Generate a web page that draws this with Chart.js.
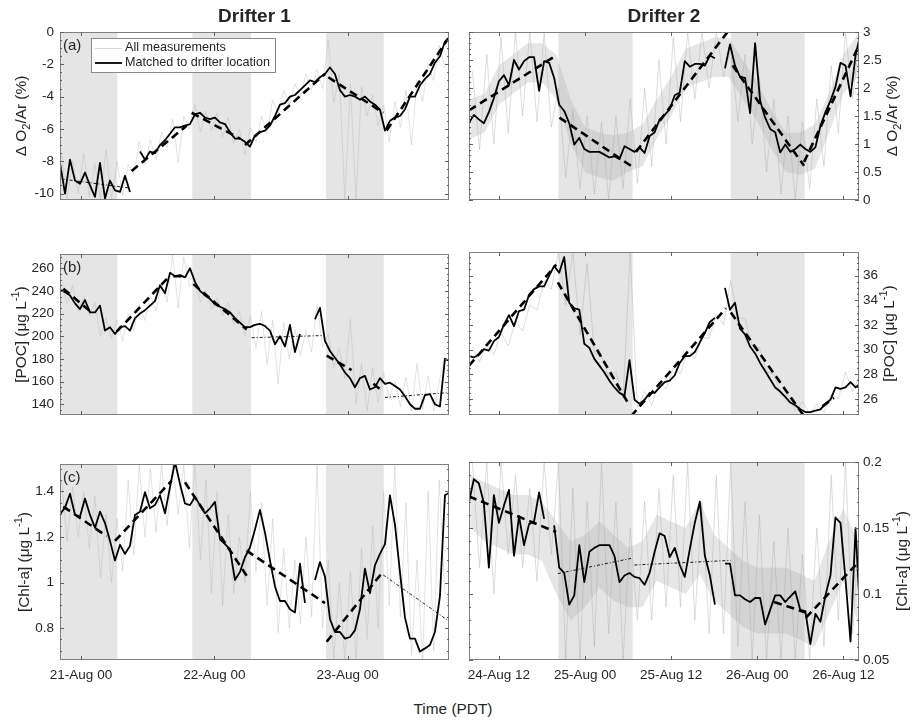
<!DOCTYPE html>
<html>
<head>
<meta charset="utf-8">
<script src="https://cdn.jsdelivr.net/npm/chart.js@4.4.0/dist/chart.umd.min.js"></script>
<style>
  body { margin: 0; background: #fff; }
  #wrap { position: relative; width: 916px; height: 720px; overflow: hidden; }
  canvas { position: absolute; }
  #xlab { position: absolute; left: 0; width: 906px; top: 700px; text-align: center;
          font: 15.4px "Liberation Sans", Arial, sans-serif; color: #262626; }
</style>
</head>
<body>
<div id="wrap">
  <canvas id="a1" width="458" height="240" style="left:0;top:0"></canvas>
  <canvas id="a2" width="458" height="240" style="left:458px;top:0"></canvas>
  <canvas id="b1" width="458" height="210" style="left:0;top:240px"></canvas>
  <canvas id="b2" width="458" height="210" style="left:458px;top:240px"></canvas>
  <canvas id="c1" width="458" height="240" style="left:0;top:450px"></canvas>
  <canvas id="c2" width="458" height="240" style="left:458px;top:450px"></canvas>
  <div id="xlab">Time (PDT)</div>
</div>
<script>
// time is in hours: drifter 1 from 21-Aug 00:00, drifter 2 from 24-Aug 12:00
const xTicks1 = [0, 24, 48];
const xLabels1 = ['21-Aug 00', '22-Aug 00', '23-Aug 00'];
const xTicks2 = [0, 12, 24, 36, 48];
const xLabels2 = ['24-Aug 12', '25-Aug 00', '25-Aug 12', '26-Aug 00', '26-Aug 12'];
const nights1 = [[-10, 6.53], [20.04, 30.6], [44.1, 54.5]];
const nights2 = [[8.29, 18.63], [32.3, 42.6]];

// matched-to-drifter series (regular sampling, null = no data)
const black1Start = -3.78, black1Step = 0.9;
const black2Start = -4.2, black2Step = 0.7;
const blackA1 = [-8.1, -10.0, -7.9, -9.2, -9.4, -8.7, -9.5, -10.2, -8.1, -10.3, -9.2, -9.8, -9.9, -8.9, -9.9, null,
  -7.4, -7.9, -7.4, -7.5, -7.0, -6.7, -6.3, -5.9, -5.9, -5.8, -5.7, -5.1, -5.0, -5.3, -5.4, -5.3, -5.6, -5.7, -6.2,
  -6.6, -6.6, -6.8, -7.1, -6.4, -6.2, -6.1, -5.8, -5.2, -4.5, -4.4, -4.0, -3.9, -3.6, -3.3, -3.0, -3.1, -2.8, -2.6,
  -2.2, -2.6, -3.6, -4.0, -3.9, -4.0, -4.2, -4.0, -4.3, -4.5, -4.8, -6.1, -5.5, -5.3, -5.2, -4.8, -4.0, -4.0, -3.3,
  -2.9, -2.6, -1.9, -1.5, -0.6, -0.3];
const blackB1 = [241, 239, 236, 229, 224, 232, 221, 221, 227, 205, 208, 202, 208, 209, 205, 216, 220, 223, 227, 231,
  245, 238, 256, 253, 254, 252, 260, 248, 240, 236, 233, 228, 226, 224, 221, 216, 212, 208, 208, 210, 211, 209, 205,
  193, 200, 191, 210, 186, 202, null, null, 215, 225, 196, 187, 181, 175, 168, 163, 155, 163, 165, 153, 155, 163, 158,
  159, 156, 153, 147, 140, 136, 136, 148, 149, 140, 138, 180, 178];
const blackC1 = [1.30, 1.329, 1.39, 1.297, 1.29, 1.369, 1.297, 1.24, 1.311, 1.261, 1.183, 1.097, 1.166, 1.126, 1.161,
  1.297, 1.311, 1.397, 1.326, 1.34, 1.383, 1.304, 1.419, 1.53, 1.433, 1.347, 1.34, 1.376, 1.34, 1.304, 1.326, 1.354,
  1.19, 1.169, 1.147, 1.011, 1.047, 1.111, 1.154, 1.233, 1.319, 1.219, 1.097, 0.983, 0.919, 0.919, 0.883, 0.869, 1.083,
  0.911, null, 1.011, 1.09, 1.026, 0.84, 0.783, 0.783, 0.754, 0.761, 0.79, 0.883, 1.061, 0.954, 1.076, 1.126, 1.169,
  1.383, 1.254, 1.047, 0.847, 0.754, 0.754, 0.697, 0.711, 0.726, 0.783, 0.94, 1.383, 1.397];
const blackA2 = [1.37, 1.52, 1.44, 1.37, 1.57, 1.82, 2.12, 2.23, 2.05, 2.5, 2.33, 2.48, 2.55, 2.55, 1.95, 2.48, 2.45,
  2.18, 1.70, 1.59, 1.37, 0.99, 1.11, 0.91, 0.86, 0.86, 0.86, 0.81, 0.76, 0.78, 0.73, 0.96, 0.91, 0.86, 0.94, 0.84,
  1.14, 1.21, 1.44, 1.52, 1.62, 1.87, 1.92, 2.48, 2.38, 2.43, 2.43, 2.40, 2.58, 2.53, null, 2.35, 2.78, 2.40, 2.2,
  2.18, 1.55, 2.8, 1.77, 1.47, 1.27, 1.21, 0.85, 0.99, 0.86, 0.91, 0.99, 0.91, 0.86, 0.94, 1.32, 1.57, 1.77, 2.02,
  2.45, 2.40, 1.85, 2.58, 2.98];
const blackB2 = [29.47, 29.36, 29.58, 30.03, 29.92, 30.69, 31.02, 32.02, 32.79, 31.9, 33.12, 33.23, 34.45, 34.9, 35.12,
  35.12, 36.0, 36.77, 36.22, 37.5, 33.79, 33.35, 33.23, 30.47, 30.14, 29.25, 28.7, 28.15, 27.48, 26.93, 26.49, 26.27,
  29.14, 25.93, 25.6, 25.93, 26.49, 26.49, 26.93, 27.37, 27.48, 27.92, 28.92, 29.47, 29.47, 29.8, 30.58, 31.35, 32.24,
  32.57, null, 35.0, 33.23, 33.79, 31.69, 31.24, 30.25, 29.69, 28.92, 28.26, 27.59, 26.93, 26.6, 26.16, 25.71, 25.49,
  25.16, 24.94, 24.94, 25.05, 25.16, 25.6, 25.93, 26.93, 26.82, 26.93, 27.37, 26.93, 27.26];
const blackC2 = [0.169, 0.187, 0.184, 0.169, 0.12, 0.175, 0.154, 0.167, 0.179, 0.129, 0.159, 0.137, 0.153, 0.155,
  0.177, 0.157, null, 0.152, 0.12, 0.116, 0.092, 0.099, 0.137, 0.109, 0.132, 0.135, 0.137, 0.137, 0.137, 0.129, 0.109,
  0.114, 0.116, 0.113, 0.112, 0.107, 0.116, 0.132, 0.146, 0.144, 0.128, 0.135, 0.122, 0.113, 0.134, 0.154, 0.17,
  0.129, 0.114, 0.092, null, 0.123, 0.123, 0.099, 0.099, 0.096, 0.094, 0.097, 0.097, 0.077, 0.088, 0.099, 0.099,
  0.094, 0.098, 0.102, 0.088, 0.087, 0.062, 0.085, 0.079, 0.099, 0.114, 0.158, 0.154, 0.111, 0.064, 0.15, 0.077];

// all measurements (hourly highs/lows)
const gray1Start = -3.5, gray2Start = -3.7, grayStep = 1;
const grayA1 = [-7.6, -10.3, -8.0, -10.0, -7.5, -10.2, -8.2, -10.4, -7.3, -10.3, -8.0, -10.1, -8.2, -8.8, -6.8, -8.2,
  -6.7, -7.9, -6.2, -7.2, -5.4, -8.1, -5.2, -6.0, -4.5, -6.2, -4.9, -6.1, -5.0, -6.5, -5.3, -6.9, -6.0, -7.6, -5.9,
  -6.8, -5.2, -6.3, -4.2, -5.0, -3.6, -4.5, -3.2, -4.0, -2.6, -3.6, -2.3, -3.5, -0.5, -4.4, -2.6, -10.4, -3.2, -10.4,
  -3.4, -5.2, -3.9, -5.8, -4.5, -6.8, -4.3, -5.9, -3.6, -7.0, -3.0, -4.3, -2.0, -3.0, -0.8, -2.2];
const grayB1 = [248, 228, 245, 222, 236, 218, 230, 200, 216, 198, 214, 196, 220, 205, 228, 214, 236, 222, 246, 230,
  272, 225, 270, 244, 250, 230, 240, 224, 234, 218, 230, 210, 222, 200, 218, 190, 222, 175, 214, 158, 212, 180, 206,
  183, 205, 186, 228, 190, 202, 172, 190, 162, 215, 140, 176, 134, 172, 142, 168, 145, 160, 138, 164, 134, 176, 136,
  165, 134, 160, 183];
const grayC1 = [1.45, 1.18, 1.42, 1.20, 1.40, 1.15, 1.38, 1.02, 1.30, 1.00, 1.28, 1.05, 1.45, 1.12, 1.52, 1.20, 1.50,
  1.22, 1.52, 1.25, 1.52, 1.30, 1.52, 1.15, 1.52, 1.10, 1.45, 0.95, 1.40, 0.90, 1.30, 0.95, 1.20, 1.00, 1.40, 1.05,
  1.35, 0.90, 1.28, 0.78, 1.15, 0.80, 1.10, 0.82, 1.20, 0.85, 1.52, 0.80, 1.10, 0.66, 1.00, 0.66, 1.05, 0.66, 1.15,
  0.75, 1.25, 0.80, 1.40, 0.90, 1.52, 0.85, 1.35, 0.68, 1.10, 0.66, 1.40, 0.70, 1.45, 0.95];
const grayA2 = [2.3, 0.9, 2.6, 1.0, 2.9, 1.2, 3.0, 1.5, 3.0, 1.4, 3.0, 1.3, 2.0, 0.4, 1.6, 0.2, 1.5, 0.1, 1.4, 0.0,
  1.5, 0.2, 1.8, 0.3, 2.0, 0.6, 2.5, 1.0, 2.9, 1.4, 3.0, 1.8, 3.0, 2.0, 3.0, 2.2, 2.7, 1.4, 2.6, 1.0, 2.2, 0.5, 1.8,
  0.1, 1.5, 0.0, 1.4, 0.2, 1.8, 0.6, 2.4, 1.2, 3.0, 1.8, 3.0];
const grayB2 = [30.2, 29.0, 30.5, 29.6, 31.4, 30.3, 32.3, 31.5, 33.6, 33.2, 35.6, 34.9, 37.9, 33.6, 37.9, 31.2, 37.0,
  29.7, 29.5, 27.8, 28.2, 26.0, 37.9, 25.3, 26.6, 25.5, 27.4, 26.8, 28.5, 28.0, 30.0, 29.3, 31.0, 30.9, 32.9, 32.0,
  35.6, 32.6, 32.5, 30.3, 30.2, 28.2, 28.0, 26.3, 26.3, 25.0, 25.8, 24.8, 25.6, 24.9, 26.4, 26.0, 28.2, 26.6, 28.0];
const grayC2 = [0.2, 0.12, 0.2, 0.10, 0.2, 0.13, 0.19, 0.12, 0.18, 0.11, 0.2, 0.13, 0.2, 0.05, 0.18, 0.05, 0.17, 0.06,
  0.2, 0.07, 0.17, 0.05, 0.15, 0.08, 0.17, 0.08, 0.18, 0.09, 0.19, 0.09, 0.2, 0.08, 0.17, 0.07, 0.19, 0.07, 0.2, 0.06,
  0.17, 0.05, 0.16, 0.05, 0.14, 0.05, 0.15, 0.05, 0.13, 0.05, 0.15, 0.06, 0.19, 0.08, 0.2, 0.07, 0.16];

// dense core of the measurements, drifter 2 (every 2 h from -4 h)
const coreStart = -4, coreStep = 2;
const coreHiA2 = [1.8, 1.9, 2.4, 2.6, 2.8, 2.8, 2.6, 1.8, 1.3, 1.2, 1.15, 1.2, 1.35, 1.8, 2.2, 2.7, 2.8, 2.9, 2.9,
  2.5, 2.1, 1.6, 1.2, 1.2, 1.35, 1.9, 2.6, 2.95];
const coreLoA2 = [1.1, 1.2, 1.7, 1.9, 2.1, 2.1, 1.8, 1.0, 0.5, 0.4, 0.35, 0.5, 0.6, 1.1, 1.5, 2.0, 2.1, 2.2, 2.2,
  1.8, 1.4, 0.9, 0.5, 0.45, 0.55, 1.2, 1.9, 2.2];
const coreHiC2 = [0.19, 0.185, 0.18, 0.175, 0.175, 0.17, 0.155, 0.14, 0.145, 0.155, 0.145, 0.135, 0.14, 0.16, 0.155,
  0.15, 0.17, 0.145, 0.135, 0.125, 0.12, 0.12, 0.12, 0.115, 0.11, 0.14, 0.165, 0.14];
const coreLoC2 = [0.15, 0.14, 0.135, 0.13, 0.13, 0.125, 0.1, 0.08, 0.09, 0.105, 0.095, 0.09, 0.09, 0.11, 0.105, 0.1,
  0.115, 0.095, 0.085, 0.075, 0.07, 0.07, 0.07, 0.065, 0.06, 0.085, 0.11, 0.08];

// linear fits: [t0, v0, t1, v1]
const fitA1 = [[9.12, -8.6, 19.02, -5.8], [19.92, -5.0, 28.62, -6.6], [29.52, -7.0, 43.92, -2.6],
  [44.52, -2.8, 54.42, -5.0], [55.02, -6.1, 66.12, -0.4]];
const thinA1 = [[-3.48, -9.1, 8.52, -9.65]];
const fitB1 = [[-3.18, 242, 1.92, 221], [6.42, 204, 15.72, 252], [16.62, 253, 19.02, 253], [20.22, 246, 29.82, 206],
  [44.22, 183, 48.72, 170], [52.62, 158, 54.42, 151]];
const thinB1 = [[30.72, 198.7, 43.32, 200.6], [54.72, 146, 66.3, 150.3]];
const fitC1 = [[-3.18, 1.333, 4.62, 1.204], [6.12, 1.183, 16.32, 1.447], [18.72, 1.44, 30.12, 1.019],
  [29.82, 1.14, 43.92, 0.91], [44.22, 0.74, 54.12, 1.04]];
const thinC1 = [[54.42, 1.033, 66.12, 0.833]];
const fitA2 = [[-4.17, 1.60, 7.98, 2.58], [8.44, 1.47, 18.41, 0.61], [19.11, 0.86, 31.86, 3.0],
  [32.56, 2.40, 42.53, 0.61], [42.53, 0.68, 49.95, 2.7]];
const thinA2 = [];
const fitB2 = [[-4.17, 28.7, 7.98, 36.88], [8.21, 35.45, 17.95, 25.71], [18.41, 24.6, 31.63, 33.35],
  [32.32, 33.0, 42.53, 24.6], [45.08, 25.4, 46.70, 26.1]];
const thinB2 = [];
const fitC2 = [[-4.17, 0.174, 7.98, 0.147], [38.35, 0.094, 42.76, 0.086], [42.76, 0.082, 49.72, 0.122]];
const thinC2 = [[8.21, 0.1155, 18.41, 0.127], [18.88, 0.122, 32.32, 0.1255]];

const yTicksA1 = [-10, -8, -6, -4, -2, 0];
const yTicksB1 = [140, 160, 180, 200, 220, 240, 260];
const yTicksC1 = [0.8, 1, 1.2, 1.4];
const yTicksA2 = [0, 0.5, 1, 1.5, 2, 2.5, 3];
const yTicksB2 = [26, 28, 30, 32, 34, 36];
const yTicksC2 = [0.05, 0.1, 0.15, 0.2];

const FONT = '"Liberation Sans", Arial, sans-serif';
const TXT = '#262626';
Chart.defaults.font.family = FONT;

function series(start, step, values) {
  return values.map((v, i) => ({ x: start + step * i, y: v }));
}
function segs(list) {
  const pts = [];
  list.forEach(([t0, v0, t1, v1]) => { pts.push({ x: t0, y: v0 }, { x: t1, y: v1 }, { x: t1, y: null }); });
  return pts;
}

// vertical rich text (sub/superscripts), reading bottom to top
function vText(ctx, parts, cx, cy, size) {
  ctx.save();
  ctx.translate(cx, cy);
  ctx.rotate(-Math.PI / 2);
  ctx.textBaseline = 'middle';
  ctx.fillStyle = TXT;
  const fontFor = p => (p[1] ? size * 0.72 : size) + 'px ' + FONT;
  let total = 0;
  parts.forEach(p => { ctx.font = fontFor(p); total += ctx.measureText(p[0]).width; });
  let x = -total / 2;
  parts.forEach(p => {
    ctx.font = fontFor(p);
    const dy = p[1] === 'sub' ? size * 0.3 : p[1] === 'sup' ? -size * 0.38 : 0;
    ctx.fillText(p[0], x, dy);
    x += ctx.measureText(p[0]).width;
  });
  ctx.restore();
}

const matlab = {
  id: 'matlab',
  beforeDatasetsDraw(chart, args, o) {
    const { ctx, chartArea: a, scales: { x } } = chart;
    ctx.save();
    ctx.fillStyle = '#e5e5e5';
    o.nights.forEach(([s, e]) => {
      const x0 = Math.max(a.left, x.getPixelForValue(s));
      const x1 = Math.min(a.right, x.getPixelForValue(e));
      if (x1 > x0) ctx.fillRect(x0, a.top, x1 - x0, a.bottom - a.top);
    });
    ctx.restore();
  },
  afterDatasetsDraw(chart, args, o) {
    const { ctx, chartArea: a, scales: { x, y } } = chart;
    ctx.save();
    ctx.strokeStyle = '#808080';
    ctx.lineWidth = 1;
    ctx.strokeRect(Math.round(a.left) + 0.5, Math.round(a.top) + 0.5, Math.round(a.width) - 1, Math.round(a.height) - 1);
    ctx.strokeStyle = '#606060';
    ctx.beginPath();
    o.yTicks.forEach(v => {
      const py = Math.round(y.getPixelForValue(v)) + 0.5;
      ctx.moveTo(a.left, py); ctx.lineTo(a.left + 4, py);
      ctx.moveTo(a.right, py); ctx.lineTo(a.right - 4, py);
    });
    const first = Math.ceil(y.min / o.minor - 1e-6) * o.minor;
    for (let v = first; v <= y.max + 1e-9; v += o.minor) {
      const py = Math.round(y.getPixelForValue(v)) + 0.5;
      ctx.moveTo(a.left, py); ctx.lineTo(a.left + 2, py);
      ctx.moveTo(a.right, py); ctx.lineTo(a.right - 2, py);
    }
    o.xTicks.forEach(v => {
      const px = Math.round(x.getPixelForValue(v)) + 0.5;
      ctx.moveTo(px, a.bottom); ctx.lineTo(px, a.bottom - 4);
      ctx.moveTo(px, a.top); ctx.lineTo(px, a.top + 4);
    });
    ctx.stroke();
    ctx.fillStyle = TXT;
    ctx.textBaseline = 'middle';
    if (o.letter) {
      ctx.font = '15px ' + FONT;
      ctx.textAlign = 'left';
      ctx.fillText(o.letter, a.left + 3, a.top + 14);
    }
    if (o.legend) {
      const lx = a.left + 31, ly = a.top + 6;
      ctx.fillStyle = '#fff';
      ctx.fillRect(lx, ly, 184, 34);
      ctx.strokeStyle = '#8a8a8a';
      ctx.strokeRect(lx + 0.5, ly + 0.5, 184, 34);
      ctx.beginPath();
      ctx.strokeStyle = 'rgba(175,175,175,0.6)';
      ctx.lineWidth = 0.8;
      ctx.moveTo(lx + 4, ly + 10.5); ctx.lineTo(lx + 31, ly + 10.5);
      ctx.stroke();
      ctx.beginPath();
      ctx.strokeStyle = '#000';
      ctx.lineWidth = 1.8;
      ctx.moveTo(lx + 4, ly + 25); ctx.lineTo(lx + 31, ly + 25);
      ctx.stroke();
      ctx.fillStyle = TXT;
      ctx.font = '12.6px ' + FONT;
      ctx.fillText(o.legend[0], lx + 34, ly + 10);
      ctx.fillText(o.legend[1], lx + 34, ly + 25);
    }
    ctx.restore();
  },
  afterDraw(chart, args, o) {
    const { ctx, chartArea: a } = chart;
    vText(ctx, o.yTitle, o.yTitleX, (a.top + a.bottom) / 2, 15.4);
    if (o.title) {
      ctx.save();
      ctx.fillStyle = TXT;
      ctx.font = 'bold 19px ' + FONT;
      ctx.textAlign = 'center';
      ctx.textBaseline = 'middle';
      ctx.fillText(o.title, (a.left + a.right) / 2, 17);
      ctx.restore();
    }
  }
};

const titleO2 = [['Δ O', ''], ['2', 'sub'], ['/Ar (%)', '']];
const titlePOC = [['[POC] (μg L', ''], ['-1', 'sup'], [')', '']];
const titleChl = [['[Chl-a] (μg L', ''], ['-1', 'sup'], [')', '']];

function panel(id, p) {
  const left = p.col === 1;
  const xT = left ? xTicks1 : xTicks2;
  const xL = left ? xLabels1 : xLabels2;
  // Chart.js paints the first dataset on top, so the fits and the matched series come first
  const datasets = [
    { data: segs(p.fit), borderColor: '#000', borderWidth: 2.6, borderDash: [8, 5] },
    { data: series(left ? black1Start : black2Start, left ? black1Step : black2Step, p.black), borderColor: '#000', borderWidth: 1.8 },
    { data: segs(p.thin), borderColor: '#000', borderWidth: 0.9, borderDash: [3, 2, 1, 2] },
    { data: series(left ? gray1Start : gray2Start, grayStep, p.gray),
      borderColor: left ? 'rgba(175,175,175,0.5)' : 'rgba(165,165,165,0.55)', borderWidth: 0.7 }
  ];
  if (p.coreHi) {
    datasets.push(
      { data: series(coreStart, coreStep, p.coreHi), borderWidth: 0, fill: false },
      { data: series(coreStart, coreStep, p.coreLo), borderWidth: 0, fill: '-1', backgroundColor: 'rgba(165,165,165,0.28)' }
    );
  }
  new Chart(document.getElementById(id), {
    type: 'line',
    data: { datasets },
    options: {
      animation: false,
      responsive: false,
      events: [],
      layout: { padding: left ? { left: 0, right: 9, top: p.top, bottom: p.bottom }
                              : { left: 11, right: 0, top: p.top, bottom: p.bottom } },
      elements: { point: { radius: 0 }, line: { tension: 0, borderCapStyle: 'butt', borderJoinStyle: 'round' } },
      spanGaps: false,
      plugins: {
        legend: { display: false },
        tooltip: { enabled: false },
        matlab: {
          nights: left ? nights1 : nights2, xTicks: xT, yTicks: p.yTicks, minor: p.minor,
          letter: p.letter, legend: p.legend, yTitle: p.yTitle, yTitleX: p.yTitleX, title: p.title
        }
      },
      scales: {
        x: {
          type: 'linear', bounds: 'data',
          min: left ? -3.78 : -4.17, max: left ? 66.25 : 50.18,
          display: p.showX,
          grid: { display: false, drawTicks: false }, border: { display: false },
          afterBuildTicks: s => { s.ticks = xT.map(v => ({ value: v })); },
          afterFit: s => { s.height = 30; },
          ticks: { autoSkip: false, maxRotation: 0, padding: 7, color: TXT, font: { size: 13.5 },
                   callback: v => xL[xT.indexOf(v)] }
        },
        y: {
          type: 'linear', bounds: 'data', position: left ? 'left' : 'right',
          min: p.yMin, max: p.yMax,
          grid: { display: false, drawTicks: false }, border: { display: false },
          afterBuildTicks: s => { s.ticks = p.yTicks.map(v => ({ value: v })); },
          afterFit: s => { s.width = left ? 60 : 57; },
          ticks: { autoSkip: false, padding: left ? 6 : 4, color: TXT, font: { size: 13.5 },
                   callback: v => String(v) }
        }
      }
    },
    plugins: [matlab]
  });
}

panel('a1', { col: 1, gray: grayA1, black: blackA1, fit: fitA1, thin: thinA1, yMin: -10.4, yMax: 0,
  yTicks: yTicksA1, minor: 0.5, top: 32, bottom: 10, showX: false, letter: '(a)', title: 'Drifter 1',
  legend: ['All measurements', 'Matched to drifter location'], yTitle: titleO2, yTitleX: 22 });
panel('a2', { col: 2, gray: grayA2, coreHi: coreHiA2, coreLo: coreLoA2, black: blackA2, fit: fitA2, thin: thinA2,
  yMin: 0, yMax: 3, yTicks: yTicksA2, minor: 0.1, top: 32, bottom: 10, showX: false, title: 'Drifter 2',
  yTitle: titleO2, yTitleX: 435 });
panel('b1', { col: 1, gray: grayB1, black: blackB1, fit: fitB1, thin: thinB1, yMin: 130.5, yMax: 272.5,
  yTicks: yTicksB1, minor: 5, top: 6, bottom: 5, showX: false, letter: '(b)', yTitle: titlePOC, yTitleX: 22 });
panel('b2', { col: 2, gray: grayB2, black: blackB2, fit: fitB2, thin: thinB2, yMin: 24.7, yMax: 37.9,
  yTicks: yTicksB2, minor: 0.5, top: 6, bottom: 5, showX: false, yTitle: titlePOC, yTitleX: 432 });
panel('c1', { col: 1, gray: grayC1, black: blackC1, fit: fitC1, thin: thinC1, yMin: 0.66, yMax: 1.52,
  yTicks: yTicksC1, minor: 0.05, top: 10, bottom: 0, showX: true, letter: '(c)', yTitle: titleChl, yTitleX: 25 });
panel('c2', { col: 2, gray: grayC2, coreHi: coreHiC2, coreLo: coreLoC2, black: blackC2, fit: fitC2, thin: thinC2,
  yMin: 0.05, yMax: 0.2, yTicks: yTicksC2, minor: 0.01, top: 10, bottom: 0, showX: true, yTitle: titleChl, yTitleX: 445 });
</script>
</body>
</html>
